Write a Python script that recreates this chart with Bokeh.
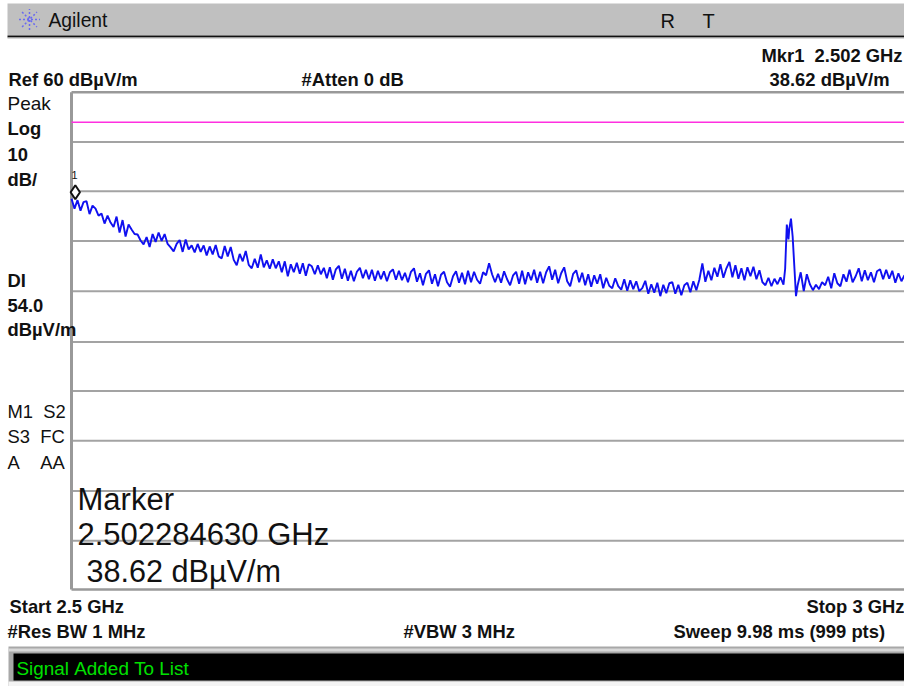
import numpy as np
from bokeh.plotting import figure
from bokeh.models import Label
from bokeh.embed import file_html
from bokeh.resources import INLINE

START_GHZ = 2.5
STOP_GHZ = 3.0
SWEEP_POINTS = 999
REF_LEVEL = 60
BOTTOM_LEVEL = -40
DISPLAY_LINE = 54.0
MARKER_GHZ = 2.502284630
MARKER_SHOWN = 39.9
GRID_LEVELS = [50, 40.1, 30.1, 20, 9.8, -0.1, -10.1, -20.2, -30.2]

trace_left = [
    38.6,36.6,38.3,36.2,37.9,38.1,35.5,37.2,36.6,35.2,
    35.6,33.6,35.2,33.8,32.9,35.0,31.8,34.3,31.0,33.4,
    32.4,31.5,31.4,30.2,29.4,30.9,28.9,31.5,29.9,31.8,
    30.1,31.5,29.5,28.8,28.0,29.5,30.3,27.9,30.4,28.4,
    29.2,27.8,29.5,27.9,29.2,27.2,29.0,27.4,29.3,27.0,
    26.6,29.1,27.0,28.9,26.3,25.2,27.5,26.0,28.1,25.3,
    24.6,26.5,24.7,27.4,24.8,26.2,24.5,26.4,24.6,26.0,
    23.8,26.0,23.0,25.4,23.8,25.7,23.5,25.6,23.1,25.4,
    25.0,23.4,25.2,23.4,24.7,22.6,24.8,22.3,24.4,25.1,
    22.5,24.5,22.1,24.1,22.0,23.9,24.7,22.6,24.3,22.4,
    24.3,22.1,24.1,22.4,24.0,22.0,23.8,24.4,22.3,24.1,
    22.2,23.7,21.8,23.9,24.6,21.9,23.6,21.2,23.5,24.2,
    21.5,23.4,21.0,23.3,23.9,21.8,20.9,23.0,24.0,21.7,
    23.7,21.4,24.1,21.8,23.9,22.3,21.5,23.8,23.2,25.6,
    23.4,21.8,23.5,21.7,24.0,22.4,21.2,23.2,23.9,21.5,
    24.1,21.4,23.8,22.2,24.3,21.7,23.9,21.6,23.8,25.0,
    22.3,24.3,21.6,23.6,24.8,22.0,21.0,23.5,24.2,21.8,
    23.7,21.2,23.4,20.9,23.2,21.5,23.4,20.6,22.7,21.1,
    20.6,22.6,21.0,20.3,22.4,20.1,22.2,20.4,22.0,20.0,
    20.6,22.1,19.5,21.4,19.7,21.7,19.0,21.3,19.6,21.6,
    21.8,19.5,21.3,19.2,21.2,21.7,19.8,22.0,20.2,22.3,
    25.6,21.9,24.1,22.2,24.7,22.9,25.4,22.7,24.6,25.9,
    22.8,25.2,22.5,24.6,22.2,24.8,23.0,24.9,22.4,24.2,
    21.8,21.2,22.7,21.0,22.5,21.4,22.8,21.3,
]
spike_points = [855, 857, 859, 860, 862, 864, 866, 868]
trace_spike = [24.5, 33.4, 30.4, 32.6, 34.6, 31.0, 25.0, 19.0]
trace_right = [
    21.2,23.8,20.0,23.4,21.4,20.2,21.3,20.4,21.8,21.2,
    22.9,20.6,23.6,21.6,21.0,23.4,21.9,24.3,21.8,23.0,
    24.6,22.0,24.2,22.2,23.8,21.8,24.0,24.4,22.4,24.3,
    22.5,24.1,21.7,23.6,22.0,23.2,
]

pts = np.concatenate([
    np.linspace(0, 853, len(trace_left)),
    spike_points,
    np.linspace(870, SWEEP_POINTS - 1, len(trace_right)),
])
freq = START_GHZ + pts * (STOP_GHZ - START_GHZ) / (SWEEP_POINTS - 1)
level = trace_left + trace_spike + trace_right

W, H = 904, 686
FRAME_L, FRAME_R, FRAME_T, FRAME_B = 71.0, 904.0, 91.8, 589.0
ghz_per_px = (STOP_GHZ - START_GHZ) / (FRAME_R - FRAME_L)
db_per_px = (REF_LEVEL - BOTTOM_LEVEL) / (FRAME_B - FRAME_T)
x_range = (START_GHZ - FRAME_L * ghz_per_px, STOP_GHZ + (W - FRAME_R) * ghz_per_px)
y_range = (BOTTOM_LEVEL - (H - FRAME_B) * db_per_px, REF_LEVEL + FRAME_T * db_per_px)

p = figure(width=W, height=H, output_backend="svg", toolbar_location=None,
           x_range=x_range, y_range=y_range,
           min_border=0, background_fill_color="white", border_fill_color="white",
           outline_line_color=None)
p.xaxis.visible = False
p.yaxis.visible = False
p.grid.visible = False

def px_x(px):
    return x_range[0] + px * ghz_per_px

def px_y(py):
    return y_range[1] - py * db_per_px

def box(l, r, t, b, color):
    p.quad(left=[px_x(l)], right=[px_x(r)], top=[px_y(t)], bottom=[px_y(b)],
           fill_color=color, line_color=None)

box(7, 904, 3, 35, "#c0c0c0")
box(7, 904, 35, 37, "#111111")
box(7, 904, 37, 38, "#b0b0b0")
box(8, 904, 646, 686, "#a8a8a8")
box(8, 904, 648, 651, "#d8d8d8")
box(13, 904, 653, 680, "#000000")
box(8, 904, 681, 686, "#f4f4f4")

p.scatter([px_x(29)], [px_y(19)], marker="asterisk", size=21, line_color="#6a6af0",
          line_width=1.5, line_dash="2 2")

grid_color = "#a3a3a3"
p.segment(x0=[START_GHZ] * len(GRID_LEVELS), x1=[STOP_GHZ] * len(GRID_LEVELS),
          y0=GRID_LEVELS, y1=GRID_LEVELS, line_color=grid_color, line_width=2)
p.segment(x0=[START_GHZ] * 2, x1=[STOP_GHZ] * 2, y0=[REF_LEVEL, BOTTOM_LEVEL],
          y1=[REF_LEVEL, BOTTOM_LEVEL], line_color="#999999", line_width=2.5)
p.segment(x0=[START_GHZ], x1=[START_GHZ], y0=[BOTTOM_LEVEL], y1=[REF_LEVEL],
          line_color="#999999", line_width=3)
p.segment(x0=[START_GHZ], x1=[STOP_GHZ], y0=[DISPLAY_LINE], y1=[DISPLAY_LINE],
          line_color="#ff30e0", line_width=1.5)
p.line(freq, level, line_color="#1010f0", line_width=1.9)
p.scatter([MARKER_GHZ], [MARKER_SHOWN], marker="diamond", size=14, fill_color="white",
          line_color="#111111", line_width=2)

def txt(x, y, s, size=18.4, bold=True, color="#111111", align="left"):
    p.add_layout(Label(x=x - 1, y=H - y, x_units="screen", y_units="screen", text=s.replace(" ", "\u00a0"),
                       text_font="Liberation Sans", text_font_size=f"{size}px",
                       text_font_style="bold" if bold else "normal",
                       text_color=color, text_align=align, text_baseline="middle"))

txt(49, 20, "Agilent", 19.3, False)
txt(661, 20, "R", 20, False)
txt(703, 20, "T", 20, False)
txt(903, 55, "Mkr1  2.502 GHz", align="right")
txt(9, 79, "Ref 60 dBµV/m")
txt(302, 79, "#Atten 0 dB")
txt(890, 79, "38.62 dBµV/m", align="right")
txt(8, 103, "Peak", 19, False)
txt(8, 128, "Log")
txt(8, 154, "10")
txt(8, 179, "dB/")
txt(8, 280, "DI")
txt(8, 305, "54.0")
txt(8, 329, "dBµV/m")
txt(8, 411, "M1  S2", 18.4, False)
txt(8, 436, "S3  FC", 18.4, False)
txt(8, 462, "A    AA", 18.4, False)
txt(78, 499, "Marker", 31, False)
txt(78, 534, "2.502284630 GHz", 31, False)
txt(87, 570, "38.62 dBµV/m", 30.6, False)
txt(10, 606, "Start 2.5 GHz")
txt(905, 606, "Stop 3 GHz", align="right")
txt(8, 631, "#Res BW 1 MHz")
txt(404, 631, "#VBW 3 MHz")
txt(674, 631, "Sweep 9.98 ms (999 pts)")
txt(17, 668, "Signal Added To List", 18.9, False, color="#00e000")
txt(72, 174, "1", 11, False)

open("out.html", "w").write(file_html(p, INLINE))
